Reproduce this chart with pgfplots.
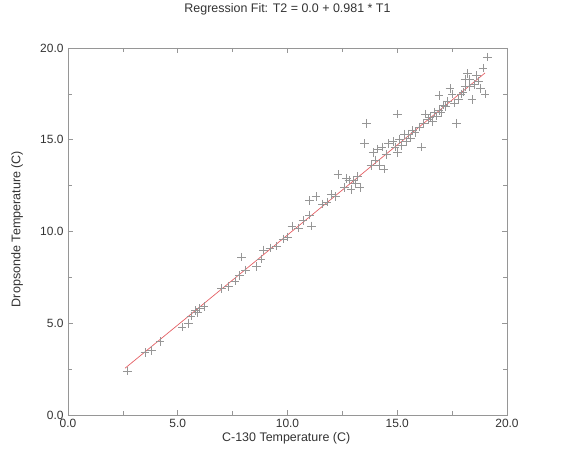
\documentclass[border=0pt]{standalone}
\usepackage{pgfplots}
\pgfplotsset{compat=1.18}
\usepackage{fontspec}
\setmainfont{Liberation Sans}
\definecolor{pt}{RGB}{150,150,150}
\definecolor{fitred}{RGB}{228,95,100}
\definecolor{frame}{RGB}{150,150,150}
\begin{document}
\begin{tikzpicture}
\path[use as bounding box] (-68bp,-42bp) rectangle (503bp,415bp);
\begin{axis}[
  scale only axis,
  width=439bp, height=367bp,
  xmin=0, xmax=20, ymin=0, ymax=20,
  xtick={0,5,10,15,20}, ytick={0,5,10,15,20},
  minor xtick={2.5,7.5,12.5,17.5}, minor ytick={2.5,7.5,12.5,17.5},
  tick align=inside,
  major tick length=5bp, minor tick length=4bp,
  axis line style={frame, line width=0.8bp},
  every tick/.style={frame, line width=0.6bp},
  tick label style={font=\fontsize{12}{14}\selectfont, text=black!80},
  /pgf/number format/assume math mode=true,
  xticklabel style={/pgf/number format/fixed, /pgf/number format/fixed zerofill, /pgf/number format/precision=1, yshift=-1bp},
  yticklabel style={/pgf/number format/fixed, /pgf/number format/fixed zerofill, /pgf/number format/precision=1, xshift=-1bp},
  title={Regression Fit: T2 = 0.0 + 0.981 * T1},
  title style={at={(axis description cs:0.5,1.09)}, anchor=center, font=\fontsize{12.5}{14}\selectfont, text=black!80},
  xlabel={C-130 Temperature (C)},
  xlabel style={at={(axis description cs:0.497,-0.063)}, anchor=center, font=\fontsize{12.5}{14}\selectfont, text=black!80},
  ylabel={Dropsonde Temperature (C)},
  ylabel style={at={(axis description cs:-0.116,0.507)}, anchor=center, rotate=0, font=\fontsize{12.6}{14}\selectfont, text=black!80},
  clip=false,
]
\addplot[only marks, mark=+, mark size=4.3bp, mark options={pt, line width=0.6bp}] coordinates {
(2.7,2.4) (3.5,3.4) (3.8,3.5) (4.2,4.0) (5.2,4.8) (5.5,5.0) (5.6,5.4) (5.8,5.7) (6.0,5.8) (5.9,5.6)
(7.0,6.9) (7.3,7.0) (7.6,7.3) (7.8,7.6) (7.9,8.6) (8.1,7.9) (8.6,8.1) (8.8,8.5) (8.9,9.0)
(9.5,9.2) (9.8,9.6) (10.0,9.7) (10.2,10.3) (10.5,10.2) (10.7,10.6) (11.0,10.9) (11.1,10.3)
(11.0,11.7) (11.3,11.9) (11.6,11.5) (12.0,12.0) (12.3,13.1) (12.6,12.4) (12.8,12.8) (13.0,12.8) (12.9,12.3)
(13.2,13.0) (13.3,12.4) (13.5,14.8) (13.6,15.9) (13.8,13.6) (13.9,14.3) (14.1,14.5) (14.3,14.6) (14.2,13.6)
(14.0,13.9) (14.4,13.4) (14.6,14.8) (14.8,14.9) (15.0,14.3) (15.0,16.4) (15.1,15.0) (15.3,15.3) (15.2,14.7)
(15.5,15.3) (15.6,15.1) (15.8,15.4) (16.0,15.7) (16.1,14.6) (16.2,15.9) (16.3,16.4) (16.5,16.2) (16.6,16.0)
(16.7,16.5) (16.8,16.3) (16.9,17.4) (17.0,16.5) (17.2,16.8) (17.3,17.1) (17.4,17.8) (17.5,17.5) (17.6,17.0)
(17.7,15.9) (17.8,17.2) (18.0,17.6) (18.1,18.3) (18.2,18.6) (18.3,17.9) (18.4,17.2) (18.5,18.0) (18.7,18.2)
(18.8,17.8) (18.9,18.9) (19.0,17.5) (19.1,19.5) (18.6,18.5)
(14.5,14.2) (14.9,14.6) (15.4,14.9) (13.1,12.6) (12.2,11.9) (11.8,11.6) (16.4,16.1) (17.1,16.9) (17.9,17.5)
(18.1,17.9) (18.3,18.3) (16.9,16.6) (15.7,15.5) (9.2,9.1) (6.2,5.9) (12.7,12.9)
};
\addplot[fitred, line width=0.7bp] coordinates {(2.6,2.55) (19.0,18.64)};
\end{axis}
\end{tikzpicture}
\end{document}
